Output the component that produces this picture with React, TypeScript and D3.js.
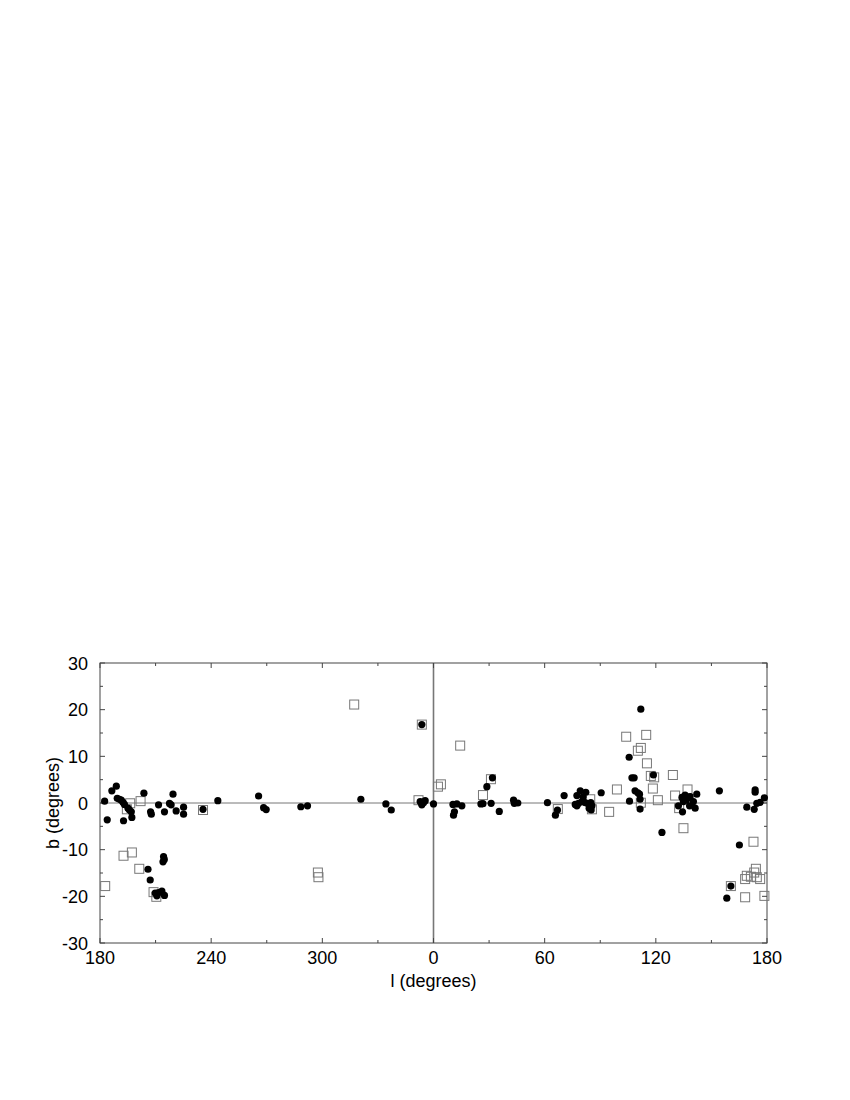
import React from "react";
import * as d3 from "d3";

// Galactic longitude l (degrees, 0-360) and latitude b (degrees)
const circlesL = [182.5,183.9,186.4,188.8,189.3,190.5,191.5,192.4,193.2,195.1,195.9,196.9,192.7,197.2,203.7,207.3,207.7,211.6,214.8,217.5,218.4,219.4,221.1,225.1,225.1,235.6,243.6,265.6,268.3,269.7,288.4,292.0,320.8,334.3,337.2,353.7,352.8,353.7,354.6,355.5,353.7,0.0,
  205.9,207.1,214.3,214.7,214.0,209.8,211.6,213.4,214.8,210.7,
  10.5,12.6,15.3,11.3,10.8,25.6,26.7,31.1,28.8,31.8,35.5,43.2,43.6,45.5,61.5,70.5,66.9,65.8,79.2,82.2,77.4,76.5,78.3,80.1,81.9,83.6,84.9,85.5,77.4,90.5,80.8,84.0,85.1,
  111.9,105.6,107.1,108.3,118.7,108.8,110.3,111.2,105.8,111.5,111.5,123.3,134.1,135.8,137.1,138.5,134.9,136.4,140.3,142.1,141.2,132.2,134.4,138.2,154.3,173.6,173.6,169.1,173.1,174.5,176.3,178.6,165.1,160.5,158.3];
const circlesB = [0.4,-3.6,2.6,3.6,1.0,0.8,0.6,0.15,-0.3,-1.1,-1.5,-1.9,-3.8,-3.1,2.1,-1.9,-2.4,-0.4,-1.9,-0.1,-0.4,1.9,-1.7,-0.9,-2.4,-1.35,0.5,1.5,-1.0,-1.4,-0.8,-0.6,0.8,-0.2,-1.5,16.8,0.3,-0.2,0.06,0.5,-0.4,-0.2,
  -14.2,-16.5,-11.5,-12.1,-12.6,-19.3,-19.2,-18.9,-19.8,-19.9,
  -0.3,-0.2,-0.6,-1.9,-2.6,-0.2,-0.15,-0.06,3.5,5.4,-1.8,0.6,-0.06,0.0,0.06,1.6,-1.5,-2.6,2.6,2.3,1.6,-0.3,-0.06,0.3,0.06,-0.2,0.06,-0.6,-0.6,2.2,1.3,-1.1,-1.5,
  20.1,9.8,5.4,5.4,6.0,2.6,2.2,1.9,0.4,0.8,-1.3,-6.3,1.2,1.7,1.0,1.35,0.3,0.6,0.3,1.9,-1.1,-0.6,-1.9,-0.6,2.6,2.8,2.3,-0.9,-1.35,-0.06,0.15,1.1,-9.0,-17.8,-20.4];

const squaresL = [182.8,192.7,197.2,201.2,208.9,210.4,196.3,194.5,201.9,235.6,317.2,353.7,297.6,297.9,351.9,2.4,4.0,14.4,26.7,31.0,67.1,84.6,85.5,94.8,99.0,104.0,114.8,111.9,110.3,115.2,117.3,119.1,129.2,118.4,111.9,121.1,134.9,130.4,137.1,132.6,172.7,174.0,173.1,169.1,168.2,171.3,174.5,176.3,160.5,168.2,178.6];
const squaresB = [-17.8,-11.3,-10.6,-14.1,-19.1,-20.1,-0.06,-1.35,0.4,-1.5,21.1,16.8,-14.9,-15.9,0.6,3.5,4.0,12.3,1.7,5.1,-1.3,0.8,-1.35,-1.9,2.9,14.2,14.6,11.8,11.2,8.5,5.8,5.5,6.0,3.1,0.06,0.6,-5.4,1.6,2.9,-1.1,-8.3,-14.1,-14.9,-15.6,-16.3,-15.8,-15.9,-16.3,-17.8,-20.2,-19.9];

const xTickValues = [-180, -120, -60, 0, 60, 120, 180];
const xTickLabels = ["180", "240", "300", "0", "60", "120", "180"];
const yTickValues = [-30, -20, -10, 0, 10, 20, 30];

const X0 = 100, X1 = 767, Y0 = 663, Y1 = 943;
const font = "'Liberation Sans', Arial, Helvetica, sans-serif";

export default function App() {
  const x = d3.scaleLinear().domain([-180, 180]).range([X0, X1]);
  const y = d3.scaleLinear().domain([-30, 30]).range([Y1, Y0]);
  const lx = (l: number) => x(l >= 180 ? l - 360 : l);
  const xMinor = d3.range(-150, 180, 60);
  const yMinor = d3.range(-25, 30, 10);
  const frame = "#444";
  return (
    <svg width={850} height={1100} style={{ position: "absolute", left: 0, top: 0, background: "#fff" }}>
      {/* zero lines */}
      <line x1={X0} x2={X1} y1={y(0)} y2={y(0)} stroke="#777" strokeWidth={1} />
      <line x1={x(0)} x2={x(0)} y1={Y0} y2={Y1} stroke="#777" strokeWidth={1.6} />
      {/* ticks */}
      {xTickValues.map((v) => (
        <g key={"xt" + v}>
          <line x1={x(v)} x2={x(v)} y1={Y1} y2={Y1 - 5} stroke={frame} />
          <line x1={x(v)} x2={x(v)} y1={Y0} y2={Y0 + 5} stroke={frame} />
        </g>
      ))}
      {xMinor.map((v) => (
        <g key={"xm" + v}>
          <line x1={x(v)} x2={x(v)} y1={Y1} y2={Y1 - 3} stroke={frame} />
          <line x1={x(v)} x2={x(v)} y1={Y0} y2={Y0 + 3} stroke={frame} />
        </g>
      ))}
      {yTickValues.map((v) => (
        <g key={"yt" + v}>
          <line x1={X0} x2={X0 + 5} y1={y(v)} y2={y(v)} stroke={frame} />
          <line x1={X1} x2={X1 - 5} y1={y(v)} y2={y(v)} stroke={frame} />
        </g>
      ))}
      {yMinor.map((v) => (
        <g key={"ym" + v}>
          <line x1={X0} x2={X0 + 3} y1={y(v)} y2={y(v)} stroke={frame} />
          <line x1={X1} x2={X1 - 3} y1={y(v)} y2={y(v)} stroke={frame} />
        </g>
      ))}
      <rect x={X0} y={Y0} width={X1 - X0} height={Y1 - Y0} fill="none" stroke={frame} strokeWidth={1} />
      {/* tick labels */}
      {xTickValues.map((v, i) => (
        <text key={"xl" + v} x={x(v)} y={Y1 + 21} textAnchor="middle" fontFamily={font} fontSize={18} fill="#000">
          {xTickLabels[i]}
        </text>
      ))}
      {yTickValues.map((v) => (
        <text key={"yl" + v} x={X0 - 12} y={y(v) + 6.5} textAnchor="end" fontFamily={font} fontSize={18} fill="#000">
          {v}
        </text>
      ))}
      <text x={x(0)} y={Y1 + 31} textAnchor="middle" fontFamily={font} fontSize={18} fill="#000" dominantBaseline="hanging">l (degrees)</text>
      <text transform={`translate(59,${y(0)}) rotate(-90)`} textAnchor="middle" fontFamily={font} fontSize={18} fill="#000">b (degrees)</text>
      {/* squares */}
      {squaresL.map((l, i) => (
        <rect key={"s" + i} x={lx(l) - 4.5} y={y(squaresB[i]) - 4.5} width={9} height={9} fill="none" stroke="#777" strokeWidth={1} />
      ))}
      {/* circles */}
      {circlesL.map((l, i) => (
        <circle key={"c" + i} cx={lx(l)} cy={y(circlesB[i])} r={3.6} fill="#000" />
      ))}
    </svg>
  );
}
